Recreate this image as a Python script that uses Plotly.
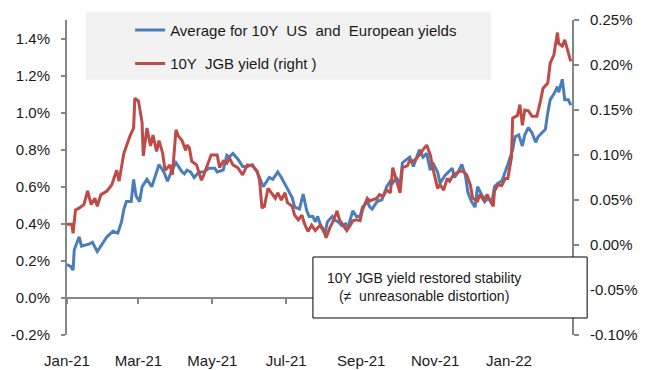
import plotly.graph_objects as go

# ---------------- data ----------------
blue_dates = [
    "2021-01-01", "2021-01-04", "2021-01-06", "2021-01-07", "2021-01-11", "2021-01-13", "2021-01-19",
    "2021-01-22", "2021-01-26", "2021-01-29", "2021-02-03", "2021-02-08", "2021-02-12", "2021-02-15",
    "2021-02-17", "2021-02-19", "2021-02-23", "2021-02-25", "2021-02-27", "2021-03-02", "2021-03-04",
    "2021-03-08", "2021-03-12", "2021-03-15", "2021-03-18", "2021-03-22", "2021-03-25", "2021-03-28",
    "2021-04-01", "2021-04-06", "2021-04-08", "2021-04-10", "2021-04-13", "2021-04-16", "2021-04-20",
    "2021-04-24", "2021-04-28", "2021-05-03", "2021-05-05", "2021-05-10", "2021-05-13", "2021-05-15",
    "2021-05-18", "2021-05-22", "2021-05-26", "2021-05-30", "2021-06-03", "2021-06-07", "2021-06-09",
    "2021-06-12", "2021-06-15", "2021-06-17", "2021-06-20", "2021-06-24", "2021-06-27", "2021-06-30",
    "2021-07-02", "2021-07-06", "2021-07-08", "2021-07-12", "2021-07-15", "2021-07-18", "2021-07-20",
    "2021-07-23", "2021-07-25", "2021-07-27", "2021-07-30", "2021-08-02", "2021-08-04", "2021-08-08",
    "2021-08-10", "2021-08-13", "2021-08-16", "2021-08-19", "2021-08-21", "2021-08-25", "2021-08-28",
    "2021-08-31", "2021-09-02", "2021-09-06", "2021-09-08", "2021-09-10", "2021-09-14", "2021-09-18",
    "2021-09-22", "2021-09-25", "2021-09-27", "2021-09-30", "2021-10-03", "2021-10-05", "2021-10-09",
    "2021-10-11", "2021-10-14", "2021-10-17", "2021-10-19", "2021-10-22", "2021-10-25", "2021-10-28",
    "2021-10-30", "2021-11-03", "2021-11-05", "2021-11-09", "2021-11-12", "2021-11-15", "2021-11-17",
    "2021-11-20", "2021-11-23", "2021-11-26", "2021-11-28", "2021-12-01", "2021-12-04", "2021-12-06",
    "2021-12-10", "2021-12-12", "2021-12-15", "2021-12-18", "2021-12-20", "2021-12-23", "2021-12-26",
    "2021-12-29", "2021-12-31", "2022-01-04", "2022-01-06", "2022-01-09", "2022-01-12", "2022-01-14",
    "2022-01-17", "2022-01-20", "2022-01-23", "2022-01-25", "2022-01-28", "2022-01-31", "2022-02-02",
    "2022-02-04", "2022-02-07", "2022-02-10", "2022-02-11", "2022-02-14", "2022-02-16", "2022-02-19",
    "2022-02-21",
]
blue_vals = [
    0.18, 0.17, 0.15, 0.26, 0.33, 0.28, 0.29,
    0.30, 0.25, 0.28, 0.33, 0.36, 0.35, 0.41,
    0.48, 0.52, 0.52, 0.64, 0.55, 0.52, 0.60,
    0.64, 0.60, 0.66, 0.72, 0.68, 0.63, 0.68,
    0.73, 0.68, 0.67, 0.69, 0.68, 0.65, 0.68,
    0.68, 0.70, 0.70, 0.68, 0.69, 0.77, 0.76,
    0.78, 0.75, 0.71, 0.71, 0.72, 0.68, 0.65,
    0.60, 0.63, 0.65, 0.64, 0.68, 0.65, 0.61,
    0.59, 0.54, 0.49, 0.48, 0.56, 0.47, 0.44,
    0.44, 0.41, 0.44, 0.38, 0.35, 0.41, 0.44,
    0.42, 0.41, 0.39, 0.40, 0.38, 0.47, 0.44,
    0.44, 0.49, 0.52, 0.49, 0.48, 0.52, 0.53,
    0.60, 0.63, 0.62, 0.65, 0.61, 0.73, 0.75,
    0.76, 0.71, 0.76, 0.80, 0.76, 0.78, 0.69,
    0.73, 0.68, 0.62, 0.66, 0.68, 0.70, 0.65,
    0.68, 0.72, 0.66, 0.57, 0.52, 0.49, 0.60,
    0.55, 0.52, 0.54, 0.52, 0.60, 0.62, 0.63,
    0.68, 0.72, 0.80, 0.87, 0.88, 0.82, 0.88,
    0.92, 0.89, 0.84, 0.87, 0.89, 0.91, 1.00,
    1.07, 1.10, 1.14, 1.11, 1.18, 1.07, 1.07,
    1.04,
]

red_dates = [
    "2021-01-01", "2021-01-05", "2021-01-06", "2021-01-08", "2021-01-11", "2021-01-15", "2021-01-18",
    "2021-01-21", "2021-01-24", "2021-01-26", "2021-01-29", "2021-02-03", "2021-02-07", "2021-02-11",
    "2021-02-13", "2021-02-17", "2021-02-22", "2021-02-25", "2021-02-26", "2021-03-01", "2021-03-04",
    "2021-03-05", "2021-03-08", "2021-03-11", "2021-03-13", "2021-03-16", "2021-03-18", "2021-03-21",
    "2021-03-23", "2021-03-27", "2021-03-29", "2021-04-01", "2021-04-03", "2021-04-06", "2021-04-09",
    "2021-04-10", "2021-04-12", "2021-04-14", "2021-04-18", "2021-04-22", "2021-04-24", "2021-04-27",
    "2021-04-30", "2021-05-05", "2021-05-07", "2021-05-10", "2021-05-13", "2021-05-15", "2021-05-18",
    "2021-05-22", "2021-05-26", "2021-05-30", "2021-06-03", "2021-06-07", "2021-06-09", "2021-06-11",
    "2021-06-13", "2021-06-16", "2021-06-19", "2021-06-22", "2021-06-24", "2021-06-27", "2021-06-30",
    "2021-07-02", "2021-07-06", "2021-07-08", "2021-07-11", "2021-07-14", "2021-07-16", "2021-07-19",
    "2021-07-22", "2021-07-25", "2021-07-29", "2021-07-31", "2021-08-03", "2021-08-06", "2021-08-09",
    "2021-08-12", "2021-08-14", "2021-08-17", "2021-08-20", "2021-08-23", "2021-08-25", "2021-08-28",
    "2021-08-31", "2021-09-02", "2021-09-06", "2021-09-08", "2021-09-10", "2021-09-14", "2021-09-16",
    "2021-09-19", "2021-09-22", "2021-09-25", "2021-09-27", "2021-09-30", "2021-10-03", "2021-10-05",
    "2021-10-09", "2021-10-11", "2021-10-14", "2021-10-17", "2021-10-19", "2021-10-22", "2021-10-25",
    "2021-10-28", "2021-10-30", "2021-11-03", "2021-11-05", "2021-11-08", "2021-11-11", "2021-11-13",
    "2021-11-16", "2021-11-19", "2021-11-21", "2021-11-24", "2021-11-27", "2021-11-30", "2021-12-02",
    "2021-12-06", "2021-12-08", "2021-12-11", "2021-12-14", "2021-12-16", "2021-12-19", "2021-12-20",
    "2021-12-23", "2021-12-26", "2021-12-29", "2021-12-31", "2022-01-03", "2022-01-04", "2022-01-08",
    "2022-01-10", "2022-01-12", "2022-01-14", "2022-01-17", "2022-01-20", "2022-01-24", "2022-01-27",
    "2022-01-29", "2022-02-02", "2022-02-04", "2022-02-07", "2022-02-10", "2022-02-11", "2022-02-14",
    "2022-02-16", "2022-02-18", "2022-02-21",
]
red_vals = [
    0.023, 0.023, 0.013, 0.039, 0.041, 0.045, 0.060,
    0.045, 0.052, 0.043, 0.056, 0.060, 0.067, 0.083,
    0.071, 0.102, 0.121, 0.130, 0.163, 0.160, 0.136,
    0.099, 0.130, 0.110, 0.122, 0.104, 0.116, 0.102,
    0.083, 0.089, 0.078, 0.128, 0.121, 0.116, 0.105,
    0.111, 0.108, 0.093, 0.089, 0.072, 0.078, 0.088,
    0.100, 0.100, 0.086, 0.093, 0.091, 0.097, 0.089,
    0.086, 0.078, 0.089, 0.088, 0.082, 0.072, 0.041,
    0.043, 0.063, 0.058, 0.052, 0.058, 0.050, 0.058,
    0.047, 0.043, 0.033, 0.028, 0.033, 0.024, 0.015,
    0.022, 0.016, 0.022, 0.019, 0.008, 0.019, 0.027,
    0.038, 0.028, 0.022, 0.016, 0.022, 0.027, 0.028,
    0.027, 0.039, 0.052, 0.049, 0.050, 0.052, 0.056,
    0.054, 0.061, 0.058, 0.086, 0.071, 0.058, 0.086,
    0.088, 0.094, 0.093, 0.097, 0.100, 0.106, 0.111,
    0.100, 0.086, 0.063, 0.067, 0.061, 0.074, 0.071,
    0.078, 0.080, 0.082, 0.082, 0.078, 0.067, 0.052,
    0.049, 0.056, 0.050, 0.056, 0.050, 0.043, 0.060,
    0.067, 0.066, 0.074, 0.074, 0.097, 0.141, 0.144,
    0.156, 0.133, 0.150, 0.149, 0.143, 0.143, 0.160,
    0.174, 0.180, 0.202, 0.211, 0.236, 0.224, 0.221,
    0.228, 0.217, 0.204,
]

x_tick_vals = ["2021-01-01", "2021-03-01", "2021-05-01", "2021-07-01",
               "2021-09-01", "2021-11-01", "2022-01-01"]
x_tick_text = ["Jan-21", "Mar-21", "May-21", "Jul-21", "Sep-21", "Nov-21", "Jan-22"]

left_tick_vals = [-0.2, 0.0, 0.2, 0.4, 0.6, 0.8, 1.0, 1.2, 1.4]
left_tick_text = ["-0.2%", "0.0%", "0.2%", "0.4%", "0.6%", "0.8%", "1.0%", "1.2%", "1.4%"]
right_tick_vals = [-0.10, -0.05, 0.0, 0.05, 0.10, 0.15, 0.20, 0.25]
right_tick_text = ["-0.10%", "-0.05%", "0.00%", "0.05%", "0.10%", "0.15%", "0.20%", "0.25%"]

left_range = [-0.2, 1.5]
right_range = [-0.10, 0.25]
x_range = ["2021-01-01", "2022-02-22"]

name_blue = "Average for 10Y  US  and  European yields"
name_red = "10Y  JGB yield (right )"
note_text = "10Y JGB yield restored stability<br>(≠  unreasonable distortion)"

BLUE = "#4a7ebb"
RED = "#be4b48"
AXIS = "#868686"
FONT = "Arial, 'Liberation Sans', sans-serif"

fig = go.Figure()
fig.add_trace(go.Scatter(x=blue_dates, y=blue_vals, name=name_blue, mode="lines",
                         line=dict(color=BLUE, width=3), legendgroup="a",
                         xaxis="x", yaxis="y"))
fig.add_trace(go.Scatter(x=red_dates, y=red_vals, name=name_red, mode="lines",
                         line=dict(color=RED, width=3), legendgroup="b",
                         xaxis="x", yaxis="y2"))
# helper trace so the zero-crossing date axis is drawn
fig.add_trace(go.Scatter(x=[x_range[0]], y=[None], xaxis="x2", yaxis="y",
                         showlegend=False, hoverinfo="skip", mode="lines"))

zero_pos = (0 - left_range[0]) / (left_range[1] - left_range[0])

fig.update_layout(
    width=647, height=370, autosize=False,
    margin=dict(l=67, r=75, t=20, b=35),
    paper_bgcolor="white", plot_bgcolor="white",
    font=dict(family=FONT, size=15, color="#1a1a1a"),
    showlegend=True,
    legend=dict(x=0.125, y=1.02, xanchor="left", yanchor="top",
                bgcolor="rgba(0,0,0,0)", font=dict(size=15),
                tracegroupgap=11, itemwidth=30),
    xaxis=dict(type="date", range=x_range, tickvals=x_tick_vals, ticktext=x_tick_text,
               showline=False, ticks="", showgrid=False, zeroline=False,
               ticklabelstandoff=15, automargin=False),
    xaxis2=dict(type="date", range=x_range, overlaying="x", anchor="free", position=zero_pos,
                tickvals=x_tick_vals, showticklabels=False, showline=True, linecolor=AXIS,
                linewidth=2, ticks="outside", ticklen=5, tickcolor=AXIS, tickwidth=2,
                showgrid=False, zeroline=False, automargin=False),
    yaxis=dict(range=left_range, tickvals=left_tick_vals, ticktext=left_tick_text,
               showline=True, linecolor=AXIS, linewidth=2, ticks="outside", ticklen=4,
               tickcolor=AXIS, tickwidth=2, showgrid=False, zeroline=False,
               ticklabelstandoff=8, automargin=False),
    yaxis2=dict(range=right_range, tickvals=right_tick_vals, ticktext=right_tick_text,
                overlaying="y", side="right", anchor="x",
                showline=True, linecolor=AXIS, linewidth=2, ticks="outside", ticklen=5,
                tickcolor=AXIS, tickwidth=2, showgrid=False, zeroline=False,
                ticklabelstandoff=8, automargin=False),
    shapes=[
        dict(type="rect", xref="paper", yref="paper", x0=0.0376, x1=0.8396, y0=0.81, y1=1.025,
             fillcolor="#f2f2f2", line=dict(width=0), layer="below"),
        dict(type="rect", xref="paper", yref="paper", x0=0.487, x1=1.03, y0=0.054, y1=0.2476,
             fillcolor="white", line=dict(color="black", width=1), layer="above"),
    ],
    annotations=[
        dict(xref="paper", yref="paper", x=0.707, y=0.152, text=note_text, showarrow=False,
             font=dict(size=14, color="#1a1a1a"), align="center",
             xanchor="center", yanchor="middle"),
    ],
)

fig.write_html("out.html")
